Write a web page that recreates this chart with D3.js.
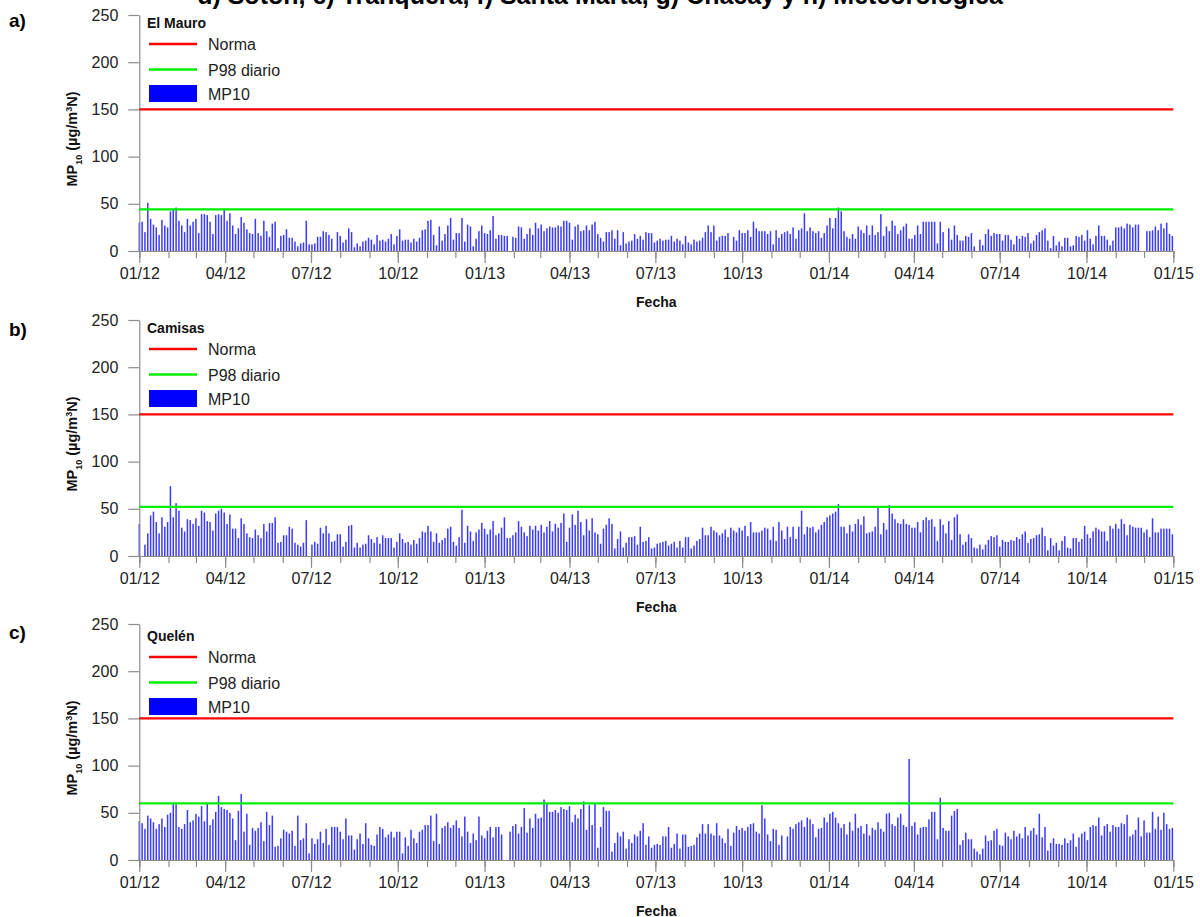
<!DOCTYPE html>
<html lang="en">
<head>
<meta charset="utf-8">
<script src="https://cdn.jsdelivr.net/npm/d3@7"></script>
<style>
body { margin: 0; background: #fff; }
text { font-family: Arial, "Liberation Sans", sans-serif; }
</style>
</head>
<body>
<script>

// muestreo cada 3 dias desde 01/01/2012
var startDate = new Date(2012, 0, 1);
var stepDays = 3;

var stations = ["El Mauro", "Camisas", "Quelén"];
var panelTags = ["a)", "b)", "c)"];
var norma = 150;
var p98 = [44, 52, 60];
var yTicks = [0, 50, 100, 150, 200, 250];
var legendNames = ["Norma", "P98 diario", "MP10"];

var elMauro = [
  30,31,20,51,34,28,25,17,33,27,25,42,44,46,32,27,20,34,27,31,34,19,39,39,38,31,18,38,39,38,44,
  32,40,27,18,24,36,30,23,19,18,34,19,16,32,21,15,29,31,3,16,17,23,14,14,10,5,8,9,32,7,
  7,8,15,15,21,20,17,13,null,20,16,9,12,24,20,4,8,5,10,11,14,12,7,17,11,12,10,13,18,7,
  16,23,11,12,12,9,13,10,14,22,23,32,33,17,6,26,11,18,27,35,12,19,19,35,10,28,26,5,13,21,
  27,19,18,22,37,13,17,
  17,16,16,null,15,14,26,25,13,18,24,17,30,24,28,21,24,26,25,25,
  27,26,32,32,30,12,26,28,21,22,27,22,28,31,18,14,10,20,20,22,
  13,22,6,20,8,10,11,18,13,16,12,20,19,19,9,11,13,11,12,12,
  16,10,13,11,7,16,9,7,12,10,11,14,20,27,20,27,11,15,16,16,
  19,null,15,11,22,19,19,22,15,31,24,21,21,21,18,21,7,22,14,18,
  20,21,18,25,13,22,24,40,21,25,21,19,21,14,19,27,35,24,35,46,
  42,21,15,13,18,13,26,22,19,27,17,27,17,20,39,16,26,21,32,27,18,22,
  26,29,13,13,17,27,18,31,31,31,31,31,8,31,20,null,24,12,27,17,
  11,11,16,15,19,5,null,12,6,18,23,16,19,18,18,11,17,17,12,7,
  16,13,16,15,19,8,11,17,20,22,24,11,3,16,6,10,5,14,14,5,
  6,16,15,17,11,22,13,7,16,27,16,16,12,6,11,25,25,26,24,29,
  28,25,28,28,null,null,21,21,22,26,22,29,24,30,18,16
];

var camisas = [
  34,null,12,24,43,47,36,24,41,31,36,74,41,56,48,30,26,39,38,34,
  40,32,48,46,37,36,27,45,48,50,46,34,44,29,29,19,40,34,24,20,
  19,28,22,19,34,26,35,35,41,14,15,22,22,31,29,14,12,10,14,38,
  null,12,15,13,30,24,32,24,15,16,23,23,10,15,32,33,9,14,9,12,
  13,22,18,14,20,13,22,19,19,19,9,15,24,18,14,15,12,17,13,19,
  26,25,32,26,15,24,14,17,19,29,31,15,11,20,49,14,32,26,16,25,
  28,35,29,23,28,37,22,24,
  30,41,19,19,22,25,37,31,25,21,32,28,32,27,33,25,31,37,26,34,
  30,35,45,15,30,44,33,48,36,22,39,27,40,25,23,13,29,33,40,34,
  8,18,26,9,14,20,20,21,12,31,15,16,20,8,9,13,14,15,16,11,
  13,15,9,16,9,20,20,8,11,16,18,30,22,22,31,27,25,22,24,28,
  20,30,27,25,30,27,32,21,36,25,25,25,27,30,29,17,31,16,36,27,
  18,31,20,31,18,31,48,23,31,30,31,25,28,33,36,41,43,45,47,55,
  31,31,24,33,26,34,39,33,42,24,25,26,31,52,
  23,35,28,54,45,39,35,34,39,34,33,30,30,36,25,38,41,38,39,31,
  16,39,33,24,37,17,41,44,23,12,15,23,19,9,8,12,7,12,17,21,
  20,22,10,17,15,15,17,16,20,18,23,26,14,18,19,22,23,30,21,6,
  19,11,14,6,16,21,9,8,19,19,15,18,32,23,19,26,30,28,26,26,
  16,32,29,34,29,39,34,22,33,31,30,30,30,25,28,20,40,25,25,29,
  29,29,29,23
];

var quelen = [
  41,39,33,47,44,40,33,38,44,35,48,50,60,59,35,33,38,53,40,42,
  49,46,57,41,60,37,43,51,68,56,54,53,50,44,21,52,70,30,49,16,
  34,31,34,40,20,51,37,47,14,15,23,32,30,28,31,15,47,21,23,39,
  7,23,17,22,30,18,33,16,35,35,35,30,22,44,26,26,11,22,28,17,
  39,23,16,15,27,35,33,24,27,30,24,30,30,7,24,15,32,23,18,30,
  32,37,37,47,20,49,17,34,36,40,34,37,42,34,25,46,30,18,28,21,
  46,26,23,31,35,24,35,
  35,27,null,null,30,36,38,28,35,55,29,44,34,49,44,45,64,60,51,51,
  53,50,56,54,53,57,40,48,44,54,62,32,58,37,60,13,35,56,52,52,
  9,18,29,25,30,12,22,18,27,25,31,39,16,25,13,16,17,16,25,25,
  35,13,17,28,12,27,27,14,15,16,24,28,38,28,38,28,26,39,26,23,
  18,33,15,29,36,32,34,31,35,38,39,30,28,58,44,27,20,33,32,16,
  26,null,25,35,33,38,40,42,35,45,43,38,24,33,34,45,40,49,51,45,
  39,34,38,27,40,31,49,34,36,28,38,26,34,32,40,33,30,49,50,38,
  36,45,
  49,37,35,107,36,40,27,34,35,35,43,51,51,22,66,34,31,31,47,52,
  54,16,21,29,22,22,12,9,6,12,26,20,21,31,33,16,15,29,25,22,
  31,25,28,23,35,26,31,34,27,49,24,35,10,18,23,17,17,16,23,18,
  21,28,14,24,28,30,21,35,37,36,45,26,36,38,30,37,35,35,39,38,
  48,25,27,32,45,25,42,29,29,51,33,46,32,50,38,33,34
];

var series = [elMauro, camisas, quelen];

// geometria de los paneles
var panelTop = [15, 320, 624];
var legendShift = [0, 0, 4];
var tagY = [27, 336, 639];
var panelH = 236;
var x0 = 139.3, x1 = 1173.3;
var axisColor = "#8c8c8c";

var svg = d3.select("body")
  .append("svg")
  .attr("width", 1200)
  .attr("height", 917);

// titulo cortado arriba
svg.append("text")
  .attr("x", 600).attr("y", 4)
  .attr("text-anchor", "middle")
  .style("font-size", "25px").style("font-weight", "bold")
  .text("d) Sotón, e) Tranquera, f) Santa Marta, g) Chacay y h) Meteorológica");

var x = d3.scaleTime()
  .domain([new Date(2012, 0, 1), new Date(2015, 0, 1)])
  .range([x0, x1]);

series.forEach(function (vals, k) {
  var top = panelTop[k];
  var ly = top + legendShift[k];
  var y = d3.scaleLinear().domain([0, 250]).range([top + panelH, top]);
  var g = svg.append("g");

  var data = vals.map(function (v, i) {
    return { date: d3.timeDay.offset(startDate, i * stepDays), v: v };
  }).filter(function (d) { return d.v != null; });

  // barras MP10
  g.selectAll("rect.bar")
    .data(data)
    .enter()
    .append("rect")
    .attr("class", "bar")
    .attr("x", function (d) { return x(d.date) - 0.75; })
    .attr("width", 1.5)
    .attr("y", function (d) { return y(d.v); })
    .attr("height", function (d) { return y(0) - y(d.v); })
    .attr("fill", "#3b3bff");

  // eje x: meses (cortos) y trimestres (largos, con etiqueta)
  var xMinor = d3.axisBottom(x).ticks(d3.timeMonth.every(1)).tickSize(7).tickFormat("");
  var xMajor = d3.axisBottom(x).ticks(d3.timeMonth.every(3)).tickSize(12).tickSizeOuter(0)
    .tickPadding(5).tickFormat(d3.timeFormat("%m/%y"));

  var gx = g.append("g").attr("transform", "translate(0," + y(0) + ")");
  gx.call(xMinor);
  var gx2 = g.append("g").attr("transform", "translate(0," + y(0) + ")");
  gx2.call(xMajor);
  [gx, gx2].forEach(function (a) {
    a.select(".domain").attr("stroke", axisColor).attr("stroke-width", 1.2);
    a.selectAll(".tick line").attr("stroke", axisColor).attr("stroke-width", 1.2);
    a.selectAll("text").style("font-size", "16px").attr("fill", "#222");
  });

  // eje y
  var gy = g.append("g").attr("transform", "translate(" + x0 + ",0)")
    .call(d3.axisLeft(y).tickValues(yTicks).tickSize(11).tickSizeOuter(0).tickPadding(10));
  gy.select(".domain").attr("stroke", axisColor).attr("stroke-width", 1.2);
  gy.selectAll(".tick line").attr("stroke", axisColor).attr("stroke-width", 1.2);
  gy.selectAll("text").style("font-size", "16px").attr("fill", "#222");

  // norma y P98
  g.append("line")
    .attr("x1", x0).attr("x2", x1)
    .attr("y1", y(norma)).attr("y2", y(norma))
    .attr("stroke", "#ff0000").attr("stroke-width", 2.3);
  g.append("line")
    .attr("x1", x0).attr("x2", x1)
    .attr("y1", y(p98[k])).attr("y2", y(p98[k]))
    .attr("stroke", "#00ee00").attr("stroke-width", 2.3);

  // leyenda
  g.append("text").attr("x", 147).attr("y", ly + 13)
    .style("font-size", "14px").style("font-weight", "bold").attr("fill", "#111")
    .text(stations[k]);
  g.append("line").attr("x1", 149).attr("x2", 197)
    .attr("y1", ly + 29).attr("y2", ly + 29)
    .attr("stroke", "#ff0000").attr("stroke-width", 2.3);
  g.append("line").attr("x1", 149).attr("x2", 197)
    .attr("y1", ly + 54.5).attr("y2", ly + 54.5)
    .attr("stroke", "#00ee00").attr("stroke-width", 2.3);
  g.append("rect").attr("x", 149).attr("y", ly + 70)
    .attr("width", 48).attr("height", 17).attr("fill", "#0000ff");
  [29, 54.5, 78.5].forEach(function (dy, j) {
    g.append("text").attr("x", 208).attr("y", ly + dy + 6)
      .style("font-size", "16px").attr("fill", "#222")
      .text(legendNames[j]);
  });

  // letra del panel
  svg.append("text").attr("x", 9).attr("y", tagY[k])
    .style("font-size", "19px").style("font-weight", "bold")
    .text(panelTags[k]);

  // titulo eje y
  var ty = g.append("text")
    .attr("transform", "translate(77," + (top + panelH / 2 + 6) + ") rotate(-90)")
    .attr("text-anchor", "middle")
    .style("font-size", "14.5px").style("font-weight", "bold").attr("fill", "#111");
  ty.append("tspan").text("MP");
  ty.append("tspan").attr("baseline-shift", "sub").style("font-size", "9px").text("10");
  ty.append("tspan").text(" (µg/m");
  ty.append("tspan").attr("baseline-shift", "super").style("font-size", "9px").text("3");
  ty.append("tspan").text("N)");

  // titulo eje x
  g.append("text").attr("x", (x0 + x1) / 2).attr("y", y(0) + 56)
    .attr("text-anchor", "middle")
    .style("font-size", "14px").style("font-weight", "bold").attr("fill", "#111")
    .text("Fecha");
});

</script>
</body>
</html>
